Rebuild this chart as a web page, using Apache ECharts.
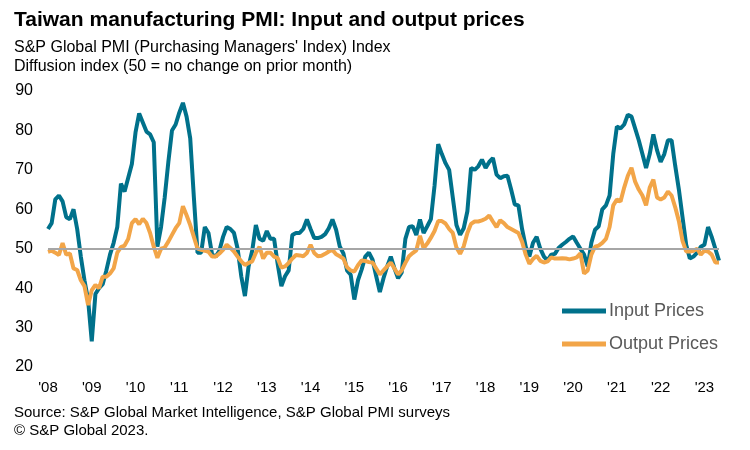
<!DOCTYPE html>
<html><head><meta charset="utf-8">
<script src="https://cdn.jsdelivr.net/npm/echarts@6/dist/echarts.min.js"></script>
<style>html,body{margin:0;padding:0;background:#fff}#c{width:750px;height:450px}</style>
</head><body><div id="c"></div>
<script>
// Monthly data, Jan 2008 - May 2023
const years = [2008,2009,2010,2011,2012,2013,2014,2015,2016,2017,2018,2019,2020,2021,2022,2023];
const yearTickLabels = ["'08","'09","'10","'11","'12","'13","'14","'15","'16","'17","'18","'19","'20","'21","'22","'23"];
const seriesNames = ["Input Prices", "Output Prices"];

const inputPrices = [
  55, 56.5, 62.5, 63.5, 62, 58, 57.5, 60, 55, 48, 42, 37,            // 2008
  26.5, 38.5, 40, 41, 44.5, 48.5, 51.5, 55.5, 66.5, 64.5, 68, 71.5,  // 2009
  79.5, 84.3, 82, 79.7, 79, 77, 50.5, 55.5, 63, 72, 80, 81.5,        // 2010
  84.5, 87, 83.5, 78, 63, 49, 49, 55.5, 54, 48.5, 48, 49.5,          // 2011
  53, 55.5, 55, 54, 50, 43, 38, 45.5, 49.5, 56, 52.5, 52,            // 2012
  54.5, 52.5, 52.5, 46, 40.5, 43, 44.5, 53.5, 54, 54, 55, 57.4,      // 2013
  55, 52.7, 52.7, 53, 53.7, 55.2, 57.4, 54.8, 50.6, 48.8, 44.5, 43.4, // 2014
  37.1, 42, 44.7, 48, 49, 47.2, 43, 39, 42.5, 45.5, 48, 45,          // 2015
  42.5, 44, 52.5, 55.5, 55.7, 53.5, 57.4, 54, 55.7, 57.5, 66, 76.5,  // 2016
  74, 71.7, 70, 63, 56, 53.5, 55.2, 59.5, 70.5, 70, 70.9, 72.6,      // 2017
  70.5, 72, 73, 68.8, 67.9, 68.4, 68.5, 65, 61.2, 61, 55, 50.5,      // 2018
  48, 51.5, 53, 50, 48, 47, 48.5, 48.7, 50.2, 51, 51.7, 52.5,        // 2019
  53.1, 51.5, 50, 48.5, 45.5, 51.5, 54.8, 55.7, 60, 61, 63.5, 74,    // 2020
  81, 80.5, 81.5, 84, 83.5, 80.5, 77.5, 74, 70.5, 74, 79, 75,        // 2021
  72, 74, 77.5, 77.5, 71, 65, 58, 51, 47.5, 48, 49, 50.5,            // 2022
  51, 55.5, 53, 50, 47                                                // 2023
];

const outputPrices = [
  49.2, 49.5, 49, 48.4, 51.4, 48.5, 48.8, 45, 44.6, 42, 40.5, 35.7,  // 2008
  39.5, 40.8, 40, 42.9, 42.9, 43.7, 45, 49, 50.4, 50.8, 52.5, 56.5,  // 2009
  57.5, 56.2, 57.6, 56.5, 54, 50.5, 47.7, 50, 50.3, 51.8, 53.5, 55.2, // 2010
  56.5, 60.8, 58.5, 56, 53, 50, 49.7, 49.5, 49.2, 48, 48, 48.8,      // 2011
  49.7, 51, 50.2, 49.3, 48, 46.8, 45.9, 46.4, 46.8, 49, 50.5, 47.5,  // 2012
  49, 49, 48, 47.6, 45.2, 45.5, 46.4, 47.5, 48.4, 48.3, 48.1, 48.9,  // 2013
  51, 48.9, 48.1, 48.2, 48.7, 49.3, 49.7, 48.6, 48.1, 47.5, 45.3, 44.5, // 2014
  44.2, 45.8, 47, 46.9, 46.6, 46.5, 45, 43.5, 44.5, 45.5, 46.5, 45,  // 2015
  43.5, 44.5, 46.4, 48.1, 48.9, 49.6, 53.3, 50.1, 51.3, 52.8, 54.5, 57, // 2016
  57, 56.4, 55, 54, 50.3, 48.7, 50.6, 54, 56.3, 56.9, 56.9, 57.2,    // 2017
  57.6, 58.4, 56.9, 55.5, 57.2, 56.5, 55.5, 55, 54.5, 54, 51.8, 48.5, // 2018
  46.2, 47.4, 48.2, 46.9, 46.5, 46.8, 47.8, 47.5, 47.5, 47.6, 47.5, 47.3, // 2019
  47.5, 47.8, 48.8, 43.7, 44.5, 48.5, 50.5, 50.8, 51.5, 52.5, 55.5, 61, // 2020
  62.5, 62, 65.5, 68.5, 70.5, 67, 65, 63.5, 61, 65.5, 67.5, 63,      // 2021
  62.5, 63, 64.5, 63.5, 60.5, 57, 52, 49.3, 49.3, 49.5, 50, 48.5,    // 2022
  49.5, 49.3, 48.5, 46.5, 46.5                                        // 2023
];

const yMin = 20, yMax = 90, yStep = 10;
const referenceLevel = 50;

const categories = [];
years.forEach(function (y, i) {
  for (let m = 0; m < 12; m++) categories.push({ year: i, month: m });
});
const cats = categories.slice(0, inputPrices.length).map(function (c) { return c.year + '-' + c.month; });

const FONT = 'Liberation Sans, Arial, sans-serif';
const TEAL = '#00718b';
const ORANGE = '#f2a548';

const chart = echarts.init(document.getElementById('c'), null, { renderer: 'canvas' });
chart.setOption({
  animation: false,
  backgroundColor: '#ffffff',
  textStyle: { fontFamily: FONT },
  title: [
    { text: 'Taiwan manufacturing PMI: Input and output prices', left: 9, top: 5,
      textStyle: { fontFamily: FONT, fontSize: 21, fontWeight: 'bold', color: '#000' } },
    { text: "S&P Global PMI (Purchasing Managers' Index) Index\nDiffusion index (50 = no change on prior month)",
      left: 9, top: 33,
      textStyle: { fontFamily: FONT, fontSize: 16, fontWeight: 'normal', color: '#000', lineHeight: 19 } },
    { text: 'Source: S&P Global Market Intelligence, S&P Global PMI surveys\n\u00A9 S&P Global 2023.',
      left: 9, top: 399,
      textStyle: { fontFamily: FONT, fontSize: 15, fontWeight: 'normal', color: '#000', lineHeight: 18 } }
  ],
  legend: {
    orient: 'vertical', left: 557, top: 297, itemGap: 15,
    itemWidth: 44, itemHeight: 5, icon: 'rect',
    data: seriesNames,
    textStyle: { fontFamily: FONT, fontSize: 18, color: '#595959', padding: [0, 0, 0, -2] }
  },
  grid: { left: 48, right: 31, top: 91, bottom: 83 },
  xAxis: {
    type: 'category', data: cats, boundaryGap: false,
    axisLine: { show: false }, axisTick: { show: false },
    axisLabel: {
      interval: function (i) { return i % 12 === 0; },
      formatter: function (v, i) { return yearTickLabels[Math.floor(i / 12)]; },
      fontFamily: FONT, fontSize: 15, color: '#000', margin: 13
    },
    splitLine: { show: false }
  },
  yAxis: {
    type: 'value', min: yMin, max: yMax, interval: yStep,
    axisLine: { show: false }, axisTick: { show: false }, splitLine: { show: false },
    axisLabel: { fontFamily: FONT, fontSize: 16, color: '#000', margin: 15 }
  },
  series: [
    { name: 'ref', type: 'line', data: [], z: 1, silent: true,
      markLine: { silent: true, symbol: 'none', label: { show: false },
        lineStyle: { color: '#a6a6a6', width: 2, type: 'solid' },
        data: [{ yAxis: referenceLevel }] } },
    { name: seriesNames[0], type: 'line', data: inputPrices, z: 3, showSymbol: false,
      lineStyle: { color: TEAL, width: 4 }, itemStyle: { color: TEAL } },
    { name: seriesNames[1], type: 'line', data: outputPrices, z: 4, showSymbol: false,
      lineStyle: { color: ORANGE, width: 4 }, itemStyle: { color: ORANGE } }
  ]
});
</script></body></html>
